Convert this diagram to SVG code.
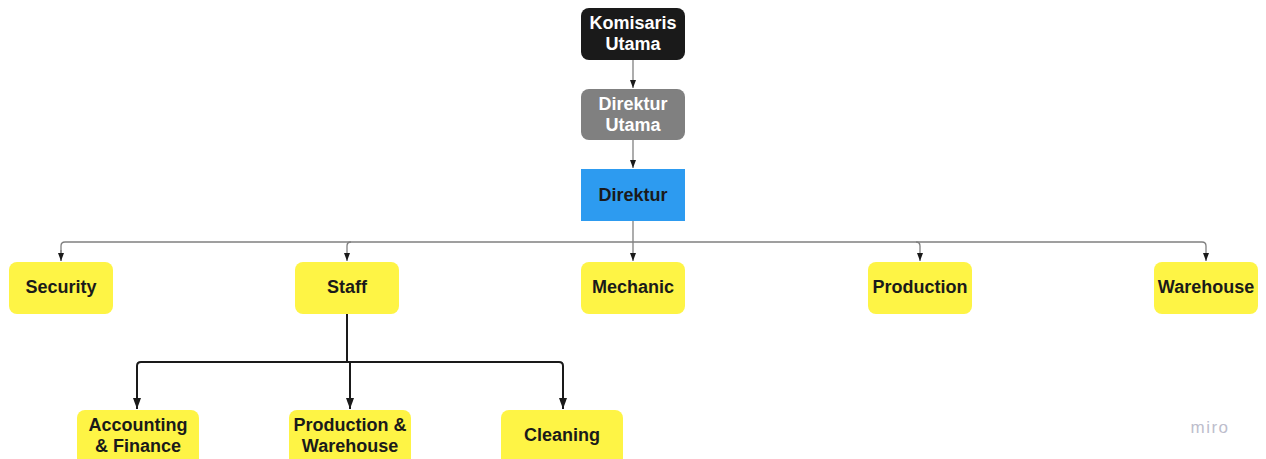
<svg xmlns="http://www.w3.org/2000/svg" width="1266" height="459" viewBox="0 0 1266 459">
<defs>
<marker id="ah" markerWidth="8" markerHeight="6" refX="8" refY="3" orient="auto" markerUnits="userSpaceOnUse" viewBox="0 0 8 6">
<path d="M0,0 L8,3 L0,6 Z" fill="#1a1a1a"/>
</marker>
<marker id="ahb" markerWidth="11" markerHeight="8" refX="11" refY="4" orient="auto" markerUnits="userSpaceOnUse" viewBox="0 0 11 8">
<path d="M0,0 L11,4 L0,8 Z" fill="#1a1a1a"/>
</marker>
<style>
.t{font-family:"Liberation Sans",Arial,sans-serif;font-weight:bold;font-size:18px;text-anchor:middle;fill:#1a1a1a}
.w{fill:#ffffff}
.y{fill:#fef445}
.c{fill:none;stroke:#808080;stroke-width:1.3}
.cb{fill:none;stroke:#1a1a1a;stroke-width:2}
</style>
</defs>
<rect width="1266" height="459" fill="#ffffff"/>
<g id="connectors">
<path class="c" d="M633,60 V88" marker-end="url(#ah)"/>
<path class="c" d="M633,140 V168" marker-end="url(#ah)"/>
<path class="c" d="M633,221 V242"/>
<path class="c" d="M61,261 V246 Q61,242 65,242 H1202 Q1206,242 1206,246 V261" marker-end="url(#ah)"/>
<path class="c" d="M61,250 V261" marker-end="url(#ah)"/>
<path class="c" d="M347,246 Q347,242 351,242"/>
<path class="c" d="M347,246 V261" marker-end="url(#ah)"/>
<path class="c" d="M633,242 V261" marker-end="url(#ah)"/>
<path class="c" d="M916,242 Q920,242 920,246 V261" marker-end="url(#ah)"/>
<path class="cb" d="M347,314 V362"/>
<path class="cb" d="M137,409 V366 Q137,362 141,362 H559 Q563,362 563,366 V409" marker-end="url(#ahb)"/>
<path class="cb" d="M137,380 V409" marker-end="url(#ahb)"/>
<path class="cb" d="M350,362 V409" marker-end="url(#ahb)"/>
</g>
<g id="komisaris-utama">
<rect x="581" y="8" width="104" height="52" rx="8" fill="#1a1a1a"/>
<text class="t w" x="633" y="29">Komisaris</text>
<text class="t w" x="633" y="50">Utama</text>
</g>
<g id="direktur-utama">
<rect x="581" y="89" width="104" height="51" rx="8" fill="#808080"/>
<text class="t w" x="633" y="110">Direktur</text>
<text class="t w" x="633" y="131">Utama</text>
</g>
<g id="direktur">
<rect x="581" y="169" width="104" height="52" fill="#2d9bf0"/>
<text class="t" x="633" y="201">Direktur</text>
</g>
<g id="security">
<rect class="y" x="9" y="262" width="104" height="52" rx="8"/>
<text class="t" x="61" y="293">Security</text>
</g>
<g id="staff">
<rect class="y" x="295" y="262" width="104" height="52" rx="8"/>
<text class="t" x="347" y="293">Staff</text>
</g>
<g id="mechanic">
<rect class="y" x="581" y="262" width="104" height="52" rx="8"/>
<text class="t" x="633" y="293">Mechanic</text>
</g>
<g id="production">
<rect class="y" x="868" y="262" width="104" height="52" rx="8"/>
<text class="t" x="920" y="293">Production</text>
</g>
<g id="warehouse">
<rect class="y" x="1154" y="262" width="104" height="52" rx="8"/>
<text class="t" x="1206" y="293">Warehouse</text>
</g>
<g id="accounting-finance">
<rect class="y" x="77" y="410" width="122" height="56" rx="8"/>
<text class="t" x="138" y="431">Accounting</text>
<text class="t" x="138" y="452">&amp; Finance</text>
</g>
<g id="production-warehouse">
<rect class="y" x="289" y="410" width="122" height="56" rx="8"/>
<text class="t" x="350" y="431">Production &amp;</text>
<text class="t" x="350" y="452">Warehouse</text>
</g>
<g id="cleaning">
<rect class="y" x="501" y="410" width="122" height="56" rx="8"/>
<text class="t" x="562" y="441">Cleaning</text>
</g>
<text x="1210" y="433" style="font-family:'Liberation Sans',Arial,sans-serif;font-size:17px;letter-spacing:1.5px;text-anchor:middle;fill:#bdbdcc">miro</text>
</svg>
